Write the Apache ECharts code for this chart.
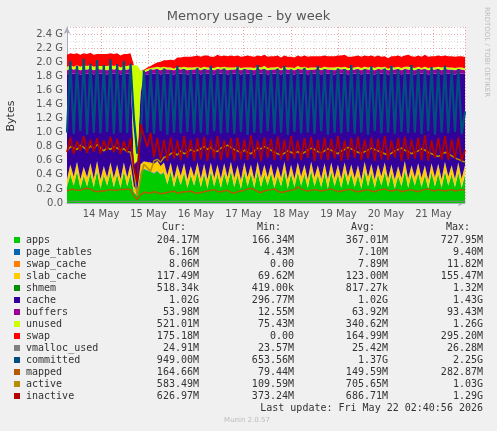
<!DOCTYPE html>
<html><head><meta charset="utf-8">
<script src="https://cdn.jsdelivr.net/npm/echarts@6/dist/echarts.min.js"></script>
<style>html,body{margin:0;padding:0;background:#F0F0F0}#c{width:497px;height:431px}</style>
</head><body><div id="c"></div>
<script>
// time sampling: start 13 May 06:49 UTC, step ~1.69h, 120 samples
const startTime = Date.UTC(2026,4,13,6,49);
const stepMs = 1.69*3600*1000;
const GB = 1;
const apps = [0.22,0.40,0.24,0.44,0.21,0.38,0.23,0.42,0.22,0.45,0.20,0.39,0.24,0.43,0.22,0.40,0.21,0.44,0.23,0.41,
0.15,0.10,0.45,0.48,0.46,0.44,0.42,0.45,0.40,0.43,0.26,0.44,0.22,0.40,0.25,0.42,0.21,0.39,0.24,0.43,
0.22,0.41,0.20,0.44,0.23,0.40,0.21,0.42,0.24,0.45,0.22,0.39,0.20,0.43,0.23,0.41,0.21,0.44,0.22,0.40,
0.24,0.42,0.21,0.38,0.23,0.44,0.20,0.41,0.22,0.43,0.24,0.40,0.21,0.45,0.23,0.39,0.22,0.42,0.20,0.44,
0.23,0.40,0.21,0.43,0.24,0.41,0.22,0.39,0.20,0.44,0.23,0.42,0.21,0.40,0.24,0.43,0.22,0.41,0.20,0.38,
0.23,0.45,0.21,0.40,0.24,0.42,0.22,0.39,0.20,0.43,0.23,0.41,0.21,0.44,0.24,0.40,0.22,0.43,0.21,0.40];
const pageTables = [0.007,0.007,0.007,0.007,0.007,0.007,0.007,0.007,0.007,0.007,0.007,0.007,0.007,0.007,0.007,0.007,0.007,0.007,0.007,0.007,
0.007,0.007,0.007,0.007,0.007,0.007,0.007,0.007,0.007,0.007,0.007,0.007,0.007,0.007,0.007,0.007,0.007,0.007,0.007,0.007,
0.007,0.007,0.007,0.007,0.007,0.007,0.007,0.007,0.007,0.007,0.007,0.007,0.007,0.007,0.007,0.007,0.007,0.007,0.007,0.007,
0.007,0.007,0.007,0.007,0.007,0.007,0.007,0.007,0.007,0.007,0.007,0.007,0.007,0.007,0.007,0.007,0.007,0.007,0.007,0.007,
0.007,0.007,0.007,0.007,0.007,0.007,0.007,0.007,0.007,0.007,0.007,0.007,0.007,0.007,0.007,0.007,0.007,0.007,0.007,0.007,
0.007,0.007,0.007,0.007,0.007,0.007,0.007,0.007,0.007,0.007,0.007,0.007,0.007,0.007,0.007,0.007,0.007,0.007,0.007,0.006];
const swapCache = [0.008,0.008,0.008,0.008,0.008,0.008,0.008,0.008,0.008,0.008,0.008,0.008,0.008,0.008,0.008,0.008,0.008,0.008,0.008,0.008,
0.000,0.000,0.002,0.004,0.006,0.008,0.008,0.008,0.008,0.008,0.008,0.008,0.008,0.008,0.008,0.008,0.008,0.008,0.008,0.008,
0.008,0.008,0.008,0.008,0.008,0.008,0.008,0.008,0.008,0.008,0.008,0.008,0.008,0.008,0.008,0.008,0.008,0.008,0.008,0.008,
0.008,0.008,0.008,0.008,0.008,0.008,0.008,0.008,0.008,0.008,0.008,0.008,0.008,0.008,0.008,0.008,0.008,0.008,0.008,0.008,
0.008,0.008,0.008,0.008,0.008,0.008,0.008,0.008,0.008,0.008,0.008,0.008,0.008,0.008,0.008,0.008,0.008,0.008,0.008,0.008,
0.008,0.008,0.008,0.008,0.008,0.008,0.008,0.008,0.008,0.008,0.008,0.008,0.008,0.008,0.008,0.008,0.008,0.008,0.008,0.008];
const slabCache = [0.11,0.13,0.12,0.13,0.11,0.12,0.12,0.13,0.11,0.13,0.12,0.12,0.11,0.13,0.12,0.13,0.11,0.12,0.12,0.13,
0.08,0.07,0.09,0.10,0.11,0.12,0.12,0.13,0.11,0.13,0.12,0.12,0.11,0.13,0.12,0.13,0.11,0.12,0.12,0.13,
0.11,0.13,0.12,0.12,0.11,0.13,0.12,0.13,0.11,0.12,0.12,0.13,0.11,0.13,0.12,0.12,0.11,0.13,0.12,0.13,
0.11,0.12,0.12,0.13,0.11,0.13,0.12,0.12,0.11,0.13,0.12,0.13,0.11,0.12,0.12,0.13,0.11,0.13,0.12,0.12,
0.11,0.13,0.12,0.13,0.11,0.12,0.12,0.13,0.11,0.13,0.12,0.12,0.11,0.13,0.12,0.13,0.11,0.12,0.12,0.13,
0.11,0.13,0.12,0.12,0.11,0.13,0.12,0.13,0.11,0.12,0.12,0.13,0.11,0.13,0.12,0.12,0.11,0.13,0.12,0.12];
const shmem = [0.001,0.001,0.001,0.001,0.001,0.001,0.001,0.001,0.001,0.001,0.001,0.001,0.001,0.001,0.001,0.001,0.001,0.001,0.001,0.001,
0.001,0.001,0.001,0.001,0.001,0.001,0.001,0.001,0.001,0.001,0.001,0.001,0.001,0.001,0.001,0.001,0.001,0.001,0.001,0.001,
0.001,0.001,0.001,0.001,0.001,0.001,0.001,0.001,0.001,0.001,0.001,0.001,0.001,0.001,0.001,0.001,0.001,0.001,0.001,0.001,
0.001,0.001,0.001,0.001,0.001,0.001,0.001,0.001,0.001,0.001,0.001,0.001,0.001,0.001,0.001,0.001,0.001,0.001,0.001,0.001,
0.001,0.001,0.001,0.001,0.001,0.001,0.001,0.001,0.001,0.001,0.001,0.001,0.001,0.001,0.001,0.001,0.001,0.001,0.001,0.001,
0.001,0.001,0.001,0.001,0.001,0.001,0.001,0.001,0.001,0.001,0.001,0.001,0.001,0.001,0.001,0.001,0.001,0.001,0.001,0.001];
const cache = [1.48,1.30,1.46,1.26,1.49,1.32,1.47,1.28,1.48,1.25,1.50,1.31,1.46,1.27,1.48,1.30,1.49,1.26,1.47,1.29,
0.30,0.40,1.00,1.22,1.24,1.26,1.28,1.25,1.30,1.27,1.44,1.26,1.48,1.30,1.45,1.28,1.49,1.31,1.46,1.27,
1.48,1.29,1.50,1.26,1.47,1.30,1.49,1.28,1.46,1.25,1.48,1.31,1.50,1.27,1.47,1.29,1.49,1.26,1.48,1.30,
1.46,1.28,1.49,1.32,1.47,1.26,1.50,1.29,1.48,1.27,1.46,1.30,1.49,1.25,1.47,1.31,1.48,1.28,1.50,1.26,
1.47,1.30,1.49,1.27,1.46,1.29,1.48,1.31,1.50,1.26,1.47,1.28,1.49,1.30,1.46,1.27,1.48,1.29,1.50,1.32,
1.47,1.25,1.49,1.30,1.46,1.28,1.48,1.31,1.50,1.27,1.47,1.29,1.49,1.26,1.46,1.30,1.48,1.27,1.49,1.30];
const buffers = [0.06,0.06,0.06,0.06,0.06,0.06,0.06,0.06,0.06,0.06,0.06,0.06,0.06,0.06,0.06,0.06,0.06,0.06,0.06,0.06,
0.02,0.02,0.03,0.04,0.05,0.06,0.06,0.06,0.06,0.06,0.06,0.06,0.06,0.06,0.06,0.06,0.06,0.06,0.06,0.06,
0.06,0.06,0.06,0.06,0.06,0.06,0.06,0.06,0.06,0.06,0.06,0.06,0.06,0.06,0.06,0.06,0.06,0.06,0.06,0.06,
0.06,0.06,0.06,0.06,0.06,0.06,0.06,0.06,0.06,0.06,0.06,0.06,0.06,0.06,0.06,0.06,0.06,0.06,0.06,0.06,
0.06,0.06,0.06,0.06,0.06,0.06,0.06,0.06,0.06,0.06,0.06,0.06,0.06,0.06,0.06,0.06,0.06,0.06,0.06,0.06,
0.06,0.06,0.06,0.06,0.06,0.06,0.06,0.06,0.06,0.06,0.06,0.06,0.06,0.06,0.06,0.06,0.06,0.06,0.06,0.05];
const unused = [0.05,0.05,0.04,0.05,0.05,0.06,0.05,0.05,0.05,0.04,0.05,0.05,0.06,0.05,0.05,0.05,0.04,0.05,0.05,0.05,
1.40,1.36,0.30,0.03,0.03,0.02,0.03,0.03,0.04,0.03,0.03,0.03,0.02,0.03,0.03,0.03,0.04,0.03,0.03,0.03,
0.03,0.03,0.03,0.02,0.03,0.03,0.03,0.03,0.04,0.03,0.03,0.03,0.03,0.02,0.03,0.03,0.03,0.03,0.03,0.04,
0.03,0.03,0.03,0.03,0.02,0.03,0.03,0.03,0.03,0.04,0.03,0.03,0.03,0.03,0.03,0.02,0.03,0.03,0.03,0.03,
0.04,0.03,0.03,0.03,0.03,0.02,0.03,0.03,0.03,0.03,0.03,0.04,0.03,0.03,0.03,0.03,0.02,0.03,0.03,0.03,
0.03,0.03,0.04,0.03,0.03,0.03,0.02,0.03,0.03,0.03,0.03,0.03,0.04,0.03,0.03,0.03,0.03,0.02,0.03,0.03];
const swap = [0.17,0.17,0.18,0.17,0.17,0.17,0.17,0.18,0.17,0.17,0.17,0.17,0.17,0.17,0.17,0.17,0.17,0.17,0.17,0.17,
0.00,0.00,0.00,0.01,0.02,0.03,0.05,0.06,0.08,0.09,0.10,0.11,0.12,0.13,0.14,0.14,0.15,0.15,0.16,0.16,
0.16,0.16,0.17,0.16,0.16,0.17,0.16,0.16,0.16,0.17,0.16,0.16,0.16,0.16,0.17,0.16,0.16,0.16,0.16,0.16,
0.16,0.16,0.16,0.16,0.16,0.16,0.15,0.15,0.15,0.15,0.15,0.16,0.16,0.16,0.16,0.16,0.17,0.16,0.16,0.16,
0.16,0.16,0.17,0.17,0.16,0.16,0.16,0.16,0.16,0.16,0.16,0.16,0.16,0.16,0.15,0.15,0.15,0.16,0.16,0.16,
0.16,0.16,0.17,0.16,0.16,0.16,0.16,0.17,0.16,0.16,0.16,0.16,0.16,0.16,0.16,0.16,0.16,0.16,0.16,0.16];
const vmallocUsed = [0.025,0.025,0.025,0.025,0.025,0.025,0.025,0.025,0.025,0.025,0.025,0.025,0.025,0.025,0.025,0.025,0.025,0.025,0.025,0.025,
0.025,0.025,0.025,0.025,0.025,0.025,0.025,0.025,0.025,0.025,0.025,0.025,0.025,0.025,0.025,0.025,0.025,0.025,0.025,0.025,
0.025,0.025,0.025,0.025,0.025,0.025,0.025,0.025,0.025,0.025,0.025,0.025,0.025,0.025,0.025,0.025,0.025,0.025,0.025,0.025,
0.025,0.025,0.025,0.025,0.025,0.025,0.025,0.025,0.025,0.025,0.025,0.025,0.025,0.025,0.025,0.025,0.025,0.025,0.025,0.025,
0.025,0.025,0.025,0.025,0.025,0.025,0.025,0.025,0.025,0.025,0.025,0.025,0.025,0.025,0.025,0.025,0.025,0.025,0.025,0.025,
0.025,0.025,0.025,0.025,0.025,0.025,0.025,0.025,0.025,0.025,0.025,0.025,0.025,0.025,0.025,0.025,0.025,0.025,0.025,0.025];
const committed = [1.00,2.02,0.98,1.95,1.02,2.05,0.97,1.98,1.00,2.03,0.99,1.96,1.01,2.04,0.98,1.97,1.00,2.02,0.99,1.98,
1.20,0.70,0.90,1.88,1.00,1.90,0.98,1.89,1.02,1.91,0.97,1.88,1.00,1.95,0.99,1.90,1.01,1.89,0.98,1.92,
1.00,1.90,0.97,1.95,1.02,1.89,0.99,1.91,1.00,1.88,0.98,1.94,1.01,1.90,0.97,1.89,1.00,1.96,0.99,1.90,
1.02,1.89,0.98,1.91,1.00,1.95,0.97,1.90,1.01,1.89,0.99,1.92,1.00,1.88,0.98,1.95,1.02,1.90,0.97,1.89,
1.00,1.91,0.99,1.90,1.01,1.96,0.98,1.89,1.00,1.90,0.97,1.94,1.02,1.88,0.99,1.91,1.00,1.95,0.98,1.90,
1.01,1.89,0.99,1.96,1.00,1.90,0.98,1.89,1.02,1.93,0.97,1.90,1.00,1.95,0.99,1.89,1.01,1.90,0.98,1.30];
const mapped = [0.17,0.19,0.19,0.18,0.18,0.20,0.21,0.20,0.17,0.16,0.17,0.17,0.18,0.19,0.18,0.18,0.19,0.19,0.20,0.19,
0.10,0.05,0.12,0.15,0.15,0.14,0.16,0.15,0.13,0.14,0.15,0.16,0.17,0.14,0.15,0.16,0.16,0.17,0.15,0.14,
0.15,0.16,0.17,0.18,0.19,0.16,0.16,0.17,0.18,0.15,0.14,0.16,0.17,0.18,0.20,0.21,0.19,0.16,0.15,0.17,
0.18,0.19,0.20,0.17,0.15,0.16,0.17,0.18,0.19,0.23,0.20,0.18,0.17,0.18,0.19,0.18,0.17,0.18,0.19,0.20,
0.18,0.16,0.17,0.18,0.19,0.19,0.17,0.16,0.17,0.18,0.19,0.17,0.16,0.18,0.19,0.20,0.18,0.17,0.18,0.19,
0.16,0.17,0.18,0.19,0.17,0.16,0.18,0.19,0.20,0.18,0.17,0.19,0.18,0.17,0.18,0.19,0.17,0.18,0.19,0.18];
const active = [0.74,0.80,0.78,0.76,0.82,0.79,0.75,0.81,0.77,0.83,0.78,0.74,0.79,0.76,0.80,0.78,0.75,0.77,0.73,0.72,
0.45,0.10,0.35,0.55,0.50,0.45,0.60,0.62,0.58,0.65,0.66,0.70,0.72,0.68,0.74,0.70,0.72,0.76,0.73,0.75,
0.77,0.80,0.76,0.79,0.74,0.73,0.78,0.80,0.82,0.79,0.76,0.74,0.71,0.75,0.72,0.70,0.74,0.78,0.77,0.80,
0.78,0.75,0.72,0.70,0.68,0.71,0.74,0.72,0.70,0.73,0.69,0.72,0.75,0.78,0.76,0.73,0.71,0.74,0.77,0.75,
0.72,0.70,0.74,0.76,0.79,0.77,0.74,0.72,0.70,0.73,0.75,0.78,0.76,0.74,0.72,0.70,0.68,0.71,0.74,0.76,
0.78,0.75,0.73,0.70,0.72,0.74,0.77,0.75,0.72,0.70,0.68,0.66,0.69,0.72,0.70,0.67,0.64,0.62,0.60,0.58];
const inactive = [0.72,0.93,0.70,0.88,0.74,0.95,0.71,0.90,0.73,0.92,0.70,0.89,0.75,0.94,0.72,0.91,0.70,0.88,0.73,0.92,
0.50,0.30,1.12,0.95,0.80,1.00,0.65,0.92,0.62,0.90,0.60,0.93,0.63,0.89,0.61,0.95,0.64,0.90,0.60,0.92,
0.62,0.94,0.60,0.90,0.63,0.95,0.61,0.89,0.64,0.92,0.60,0.93,0.62,0.90,0.61,0.96,0.63,0.89,0.60,0.93,
0.64,0.91,0.61,0.94,0.62,0.90,0.60,0.95,0.63,0.89,0.61,0.92,0.64,0.94,0.60,0.90,0.62,0.93,0.61,0.91,
0.63,0.95,0.60,0.89,0.62,0.92,0.64,0.94,0.61,0.90,0.63,0.93,0.60,0.91,0.62,0.95,0.61,0.89,0.64,0.92,
0.60,0.94,0.62,0.90,0.63,0.93,0.61,0.96,0.60,0.89,0.64,0.92,0.62,0.95,0.61,0.90,0.63,0.93,0.60,0.75];

const legendNames = ['apps','page_tables','swap_cache','slab_cache','shmem','cache','buffers','unused','swap','vmalloc_used','committed','mapped','active','inactive'];
const legendColors = ['#00CC00','#0066B3','#FF8000','#FFCC00','#008F00','#330099','#990099','#CCFF00','#FF0000','#808080','#004D80','#B35A00','#B38F00','#B30000'];
const legendCur = ['204.17M','6.16M','8.06M','117.49M','518.34k','1.02G','53.98M','521.01M','175.18M','24.91M','949.00M','164.66M','583.49M','626.97M'];
const legendMin = ['166.34M','4.43M','0.00','69.62M','419.00k','296.77M','12.55M','75.43M','0.00','23.57M','653.56M','79.44M','109.59M','373.24M'];
const legendAvg = ['367.01M','7.10M','7.89M','123.00M','817.27k','1.02G','63.92M','340.62M','164.99M','25.42M','1.37G','149.59M','705.65M','686.71M'];
const legendMax = ['727.95M','9.40M','11.82M','155.47M','1.32M','1.43G','93.43M','1.26G','295.20M','26.28M','2.25G','282.87M','1.03G','1.29G'];
const yTicks = [0,0.2,0.4,0.6,0.8,1.0,1.2,1.4,1.6,1.8,2.0,2.2,2.4];

const pair = arr => arr.map((v,i)=>[startTime+i*stepMs, v*GB]);
const areaNames = ['apps','page_tables','swap_cache','slab_cache','shmem','cache','buffers','unused','swap'];
const areaData = [apps,pageTables,swapCache,slabCache,shmem,cache,buffers,unused,swap];
const lineNames = ['vmalloc_used','committed','mapped','active','inactive'];
const lineData = [vmallocUsed,committed,mapped,active,inactive];
const lineWidths = [1,2.2,1.5,1.5,1.8];
const series = [];
areaNames.forEach((n,k)=>{
  const c = legendColors[legendNames.indexOf(n)];
  series.push({type:'line',name:n,stack:'mem',data:pair(areaData[k]),showSymbol:false,
    lineStyle:{width:0},areaStyle:{color:c,opacity:1},itemStyle:{color:c},z:2,animation:false});
});
lineNames.forEach((n,k)=>{
  const c = legendColors[legendNames.indexOf(n)];
  series.push({type:'line',name:n,data:pair(lineData[k]),showSymbol:false,
    lineStyle:{width:lineWidths[k],color:c},itemStyle:{color:c},z:3,animation:false});
});

const mono = 'DejaVu Sans Mono';
const graphic = [];
const rowY0 = 240, rowH = 12;
const colRight = [199,294,388,483];
['Cur:','Min:','Avg:','Max:'].forEach((h,j)=>{
  graphic.push({type:'text',x:colRight[j]-13,y:227,style:{text:h,font:'10px '+mono,fill:'#333',textAlign:'right',textVerticalAlign:'middle'}});
});
legendNames.forEach((n,i)=>{
  const y = rowY0 + i*rowH;
  graphic.push({type:'rect',shape:{x:14,y:y-3,width:6,height:6},style:{fill:legendColors[i]}});
  graphic.push({type:'text',x:26,y:y,style:{text:n,font:'10px '+mono,fill:'#333',textVerticalAlign:'middle'}});
  [legendCur,legendMin,legendAvg,legendMax].forEach((arr,j)=>{
    graphic.push({type:'text',x:colRight[j],y:y,style:{text:arr[i],font:'10px '+mono,fill:'#333',textAlign:'right',textVerticalAlign:'middle'}});
  });
});
graphic.push({type:'text',x:483,y:408,style:{text:'Last update: Fri May 22 02:40:56 2026',font:'10px '+mono,fill:'#333',textAlign:'right',textVerticalAlign:'middle'}});
graphic.push({type:'text',x:247,y:420,style:{text:'Munin 2.0.57',font:'7px DejaVu Sans',fill:'#bbb',textAlign:'center',textVerticalAlign:'middle'}});
graphic.push({type:'text',x:487,y:52,rotation:-Math.PI/2,style:{text:'RRDTOOL / TOBI OETIKER',font:'7px DejaVu Sans',fill:'#bbb',textAlign:'center',textVerticalAlign:'middle'}});
graphic.push({type:'text',x:11,y:116,rotation:Math.PI/2,style:{text:'Bytes',font:'11px DejaVu Sans',fill:'#333',textAlign:'center',textVerticalAlign:'middle'}});

const chart = echarts.init(document.getElementById('c'),null,{renderer:'canvas'});
chart.setOption({
  useUTC:true,
  animation:false,
  backgroundColor:'#F0F0F0',
  title:{text:'Memory usage - by week',left:'center',top:5,textStyle:{fontFamily:'DejaVu Sans',fontSize:13,fontWeight:'normal',color:'#555'}},
  grid:{left:67,right:32,top:27,bottom:228,show:true,backgroundColor:'#FFFFFF',borderWidth:0},
  xAxis:{type:'time',min:startTime,max:startTime+119*stepMs,interval:86400000,
    axisLine:{lineStyle:{color:'#aab'},symbol:['none','arrow'],symbolSize:[5,7]},
    axisTick:{show:false},
    axisLabel:{color:'#555',fontFamily:'DejaVu Sans',fontSize:10,margin:6,hideOverlap:false,
      formatter:v=>new Date(v).getUTCDate()+' May'},
    splitLine:{show:true,lineStyle:{color:'#e6a0a0',type:[1,2],width:1}},
    minorTick:{show:false,splitNumber:4},
    minorSplitLine:{show:true,lineStyle:{color:'#dddddd',type:[1,2],width:1}}},
  yAxis:{type:'value',min:0,max:2.5,interval:0.2,
    axisLine:{show:true,lineStyle:{color:'#aab'},symbol:['none','arrow'],symbolSize:[5,7]},
    axisTick:{show:false},
    axisLabel:{color:'#555',fontFamily:'DejaVu Sans',fontSize:10,margin:4,showMaxLabel:false,
      formatter:v=>{const t=yTicks.find(x=>Math.abs(x-v)<1e-6);return t===undefined?'':(t===0?'0.0':t.toFixed(1)+' G');}},
    splitLine:{show:true,lineStyle:{color:'#e6b0b0',type:[1,2],width:1}},
    minorTick:{show:false,splitNumber:2},
    minorSplitLine:{show:true,lineStyle:{color:'#dddddd',type:[1,2],width:1}}},
  series:series,
  graphic:graphic
});
</script></body></html>
